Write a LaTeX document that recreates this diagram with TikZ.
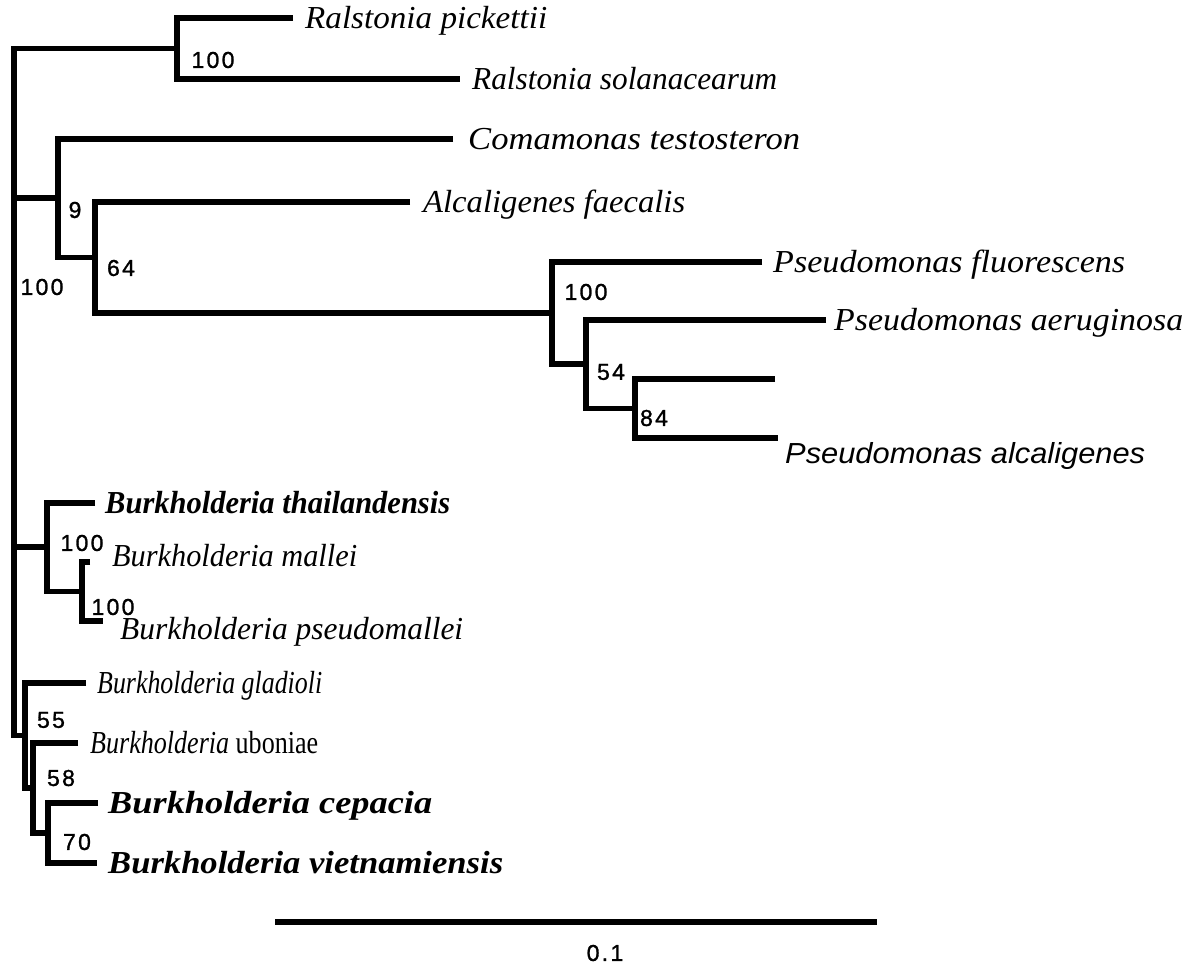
\documentclass[tikz,border=0pt]{standalone}
\usepackage{fontspec}
\usepackage{graphicx}
\setmainfont{Liberation Serif}
\newfontfamily\numfont[LetterSpace=10,FakeBold=1.2]{Liberation Sans}
\newfontfamily\sansfam{Liberation Sans}
\newcommand{\taxon}[2]{\resizebox{#1pt}{\height}{#2}}
\begin{document}
\begin{tikzpicture}[x=1pt,y=-1pt,
  br/.style={line width=5.5pt, line join=miter},
  bs/.style={font=\numfont\fontsize{23}{23}\selectfont, inner sep=0pt},
  tx/.style={font=\fontsize{32}{32}\selectfont, inner sep=0pt, anchor=base west}]
\useasboundingbox (0,0) rectangle (1193,975);
% tips
\coordinate (t1) at (293,18);
\coordinate (t2) at (460,79);
\coordinate (t3) at (453,139);
\coordinate (t4) at (410,202);
\coordinate (t5) at (762,262);
\coordinate (t6) at (826,320);
\coordinate (t7) at (775,379);
\coordinate (t8) at (778,438);
\coordinate (t9) at (95,503);
\coordinate (t10) at (90,562);
\coordinate (t11) at (103,621);
\coordinate (t12) at (86,683);
\coordinate (t13) at (78,743);
\coordinate (t14) at (98,803);
\coordinate (t15) at (97,863);
% internal nodes
\coordinate (nRal) at (177,48.5);
\coordinate (n84) at (635,408.5);
\coordinate (n54) at (586,364);
\coordinate (nP) at (552,313);
\coordinate (n64) at (95,257.5);
\coordinate (n9) at (58,198);
\coordinate (nB2) at (82,591.5);
\coordinate (nB1) at (47,547);
\coordinate (n70) at (48,833);
\coordinate (n58) at (33,788);
\coordinate (n55) at (25,735.5);
\coordinate (root) at (14,392);
% branches
\draw[br] (t1) -| (nRal) |- (t2);
\draw[br] (t7) -| (n84) |- (t8);
\draw[br] (t6) -| (n54) |- (n84);
\draw[br] (t5) -| (nP) |- (n54);
\draw[br] (t4) -| (n64) |- (nP);
\draw[br] (t3) -| (n9) |- (n64);
\draw[br] (t10) -| (nB2) |- (t11);
\draw[br] (t9) -| (nB1) |- (nB2);
\draw[br] (t14) -| (n70) |- (t15);
\draw[br] (t13) -| (n58) |- (n70);
\draw[br] (t12) -| (n55) |- (n58);
\draw[br] (nRal) -| (root);
\draw[br] (n9) -| (root);
\draw[br] (nB1) -| (root);
\draw[br] (n55) -| (root);
% bootstrap values
\node[bs] (bRal) at (213,60) {100};
\node[bs] (b9) at (75,210) {9};
\node[bs] (b64) at (121,268) {64};
\node[bs] (broot) at (42,287) {100};
\node[bs] (bP) at (586,292) {100};
\node[bs] (b54) at (611,372) {54};
\node[bs] (b84) at (654,418) {84};
\node[bs] (bB1) at (82,543) {100};
\node[bs] (bB2) at (113,607) {100};
\node[bs] (b55) at (51,720) {55};
\node[bs] (b58) at (61,778) {58};
\node[bs] (b70) at (77,842) {70};
% taxa
\node[tx] (l1) at (305,28) {\taxon{242}{\itshape Ralstonia pickettii}};
\node[tx] (l2) at (472,89) {\taxon{305}{\itshape Ralstonia solanacearum}};
\node[tx] (l3) at (468,149) {\taxon{332}{\itshape Comamonas testosteron}};
\node[tx] (l4) at (423,212) {\taxon{262}{\itshape Alcaligenes faecalis}};
\node[tx] (l5) at (773,272) {\taxon{352}{\itshape Pseudomonas fluorescens}};
\node[tx] (l6) at (834,330) {\taxon{349}{\itshape Pseudomonas aeruginosa}};
\node[tx] (l8) at (785,463) {\taxon{360}{\sansfam\itshape\fontsize{29}{29}\selectfont Pseudomonas alcaligenes}};
\node[tx] (l9) at (105,513) {\taxon{345}{\bfseries\itshape Burkholderia thailandensis}};
\node[tx] (l10) at (112,566) {\taxon{245}{\itshape Burkholderia mallei}};
\node[tx] (l11) at (120,639) {\taxon{343}{\itshape Burkholderia pseudomallei}};
\node[tx] (l12) at (97,693) {\taxon{225}{\itshape Burkholderia gladioli}};
\node[tx] (l13) at (90,753) {\taxon{228}{\itshape Burkholderia \upshape uboniae}};
\node[tx] (l14) at (108,813) {\taxon{324}{\bfseries\itshape Burkholderia cepacia}};
\node[tx] (l15) at (108,873) {\taxon{395}{\bfseries\itshape Burkholderia vietnamiensis}};
% scale bar
\coordinate (s1) at (275,922);
\coordinate (s2) at (877,922);
\draw[br] (s1) -- (s2);
\node[bs] (sl) at (605,953) {0.1};
\end{tikzpicture}
\end{document}
